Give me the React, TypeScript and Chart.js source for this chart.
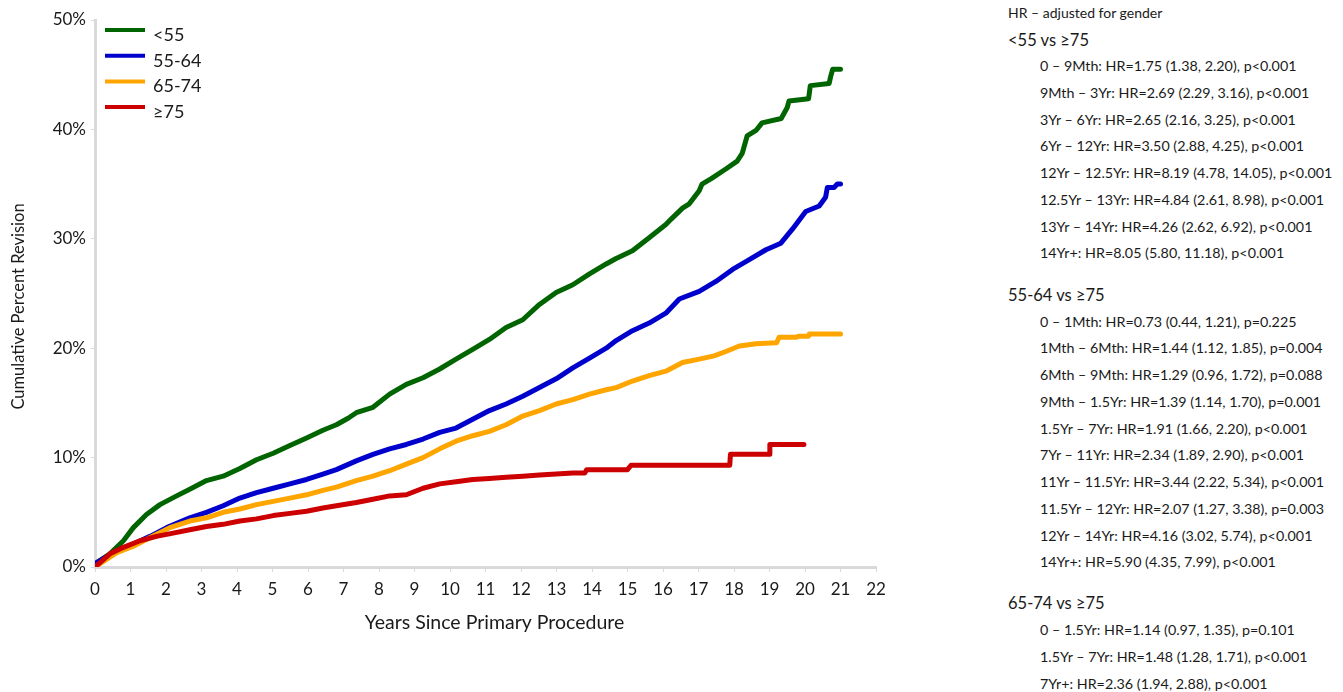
import React, { useEffect, useRef } from 'react';
import { Chart, registerables } from 'chart.js';

Chart.register(...registerables);

const seriesLabels = ['<55', '55-64', '65-74', '≥75'];
const seriesColors = ['#006400', '#0000cc', '#ffa500', '#cc0000'];

const under55Years = [0, 0.05, 0.42, 0.8, 1.08, 1.45, 1.83, 2.3, 2.67, 3.14, 3.61, 4.08, 4.55, 5.02, 5.49, 5.96, 6.42, 6.8, 7.13, 7.36, 7.83, 8.3, 8.77, 9.24, 9.71, 10.17, 10.64, 11.11, 11.58, 12.05, 12.52, 12.99, 13.46, 13.93, 14.4, 14.68, 15.14, 15.61, 16.08, 16.23, 16.55, 16.74, 17.02, 17.1, 17.36, 17.78, 18.09, 18.23, 18.37, 18.62, 18.79, 19.33, 19.5, 19.55, 20.1, 20.15, 20.68, 20.72, 20.78, 21.0];
const under55Pct = [0, 0.4, 1.2, 2.4, 3.6, 4.8, 5.7, 6.5, 7.1, 7.9, 8.3, 9.0, 9.8, 10.4, 11.1, 11.8, 12.5, 13.0, 13.6, 14.1, 14.6, 15.8, 16.7, 17.3, 18.1, 19.0, 19.9, 20.8, 21.9, 22.6, 24.0, 25.1, 25.8, 26.8, 27.7, 28.2, 28.9, 30.1, 31.3, 31.8, 32.8, 33.2, 34.4, 35.0, 35.5, 36.4, 37.1, 37.8, 39.4, 39.9, 40.6, 41.0, 42.0, 42.6, 42.8, 44.0, 44.2, 44.8, 45.5, 45.5];

const age55to64Years = [0, 0.05, 0.61, 1.08, 1.55, 2.02, 2.67, 3.14, 3.61, 4.08, 4.55, 5.02, 5.49, 5.96, 6.42, 6.8, 7.36, 7.83, 8.3, 8.77, 9.24, 9.71, 10.17, 10.64, 11.11, 11.58, 12.05, 12.52, 12.99, 13.46, 13.93, 14.4, 14.68, 15.14, 15.61, 16.08, 16.46, 17.02, 17.49, 17.96, 18.43, 18.9, 19.32, 19.65, 20.02, 20.4, 20.58, 20.63, 20.82, 20.91, 21.0];
const age55to64Pct = [0, 0.4, 1.5, 2.1, 2.8, 3.6, 4.5, 5.0, 5.6, 6.3, 6.8, 7.2, 7.6, 8.0, 8.5, 8.9, 9.7, 10.3, 10.8, 11.2, 11.7, 12.3, 12.7, 13.5, 14.3, 14.9, 15.6, 16.4, 17.2, 18.2, 19.1, 20.0, 20.7, 21.6, 22.3, 23.2, 24.5, 25.2, 26.1, 27.2, 28.1, 29.0, 29.6, 30.9, 32.5, 33.0, 33.8, 34.7, 34.7, 35.0, 35.0];

const age65to74Years = [0, 0.61, 1.08, 1.55, 2.11, 2.67, 3.14, 3.61, 4.08, 4.55, 5.02, 5.49, 5.96, 6.42, 6.8, 7.36, 7.83, 8.3, 8.77, 9.24, 9.71, 10.17, 10.64, 11.11, 11.58, 12.05, 12.52, 12.99, 13.46, 13.93, 14.4, 14.68, 15.14, 15.61, 16.08, 16.55, 17.02, 17.44, 17.77, 18.15, 18.62, 19.2, 19.27, 19.74, 19.83, 20.1, 20.12, 21.0];
const age65to74Pct = [0, 1.3, 1.9, 2.7, 3.6, 4.2, 4.5, 5.0, 5.3, 5.7, 6.0, 6.3, 6.6, 7.0, 7.3, 7.9, 8.3, 8.8, 9.4, 10.0, 10.8, 11.5, 12.0, 12.4, 13.0, 13.8, 14.3, 14.9, 15.3, 15.8, 16.2, 16.4, 17.0, 17.5, 17.9, 18.7, 19.0, 19.3, 19.7, 20.2, 20.4, 20.5, 21.0, 21.0, 21.1, 21.1, 21.3, 21.3];

const age75PlusYears = [0, 0.42, 0.8, 1.27, 1.73, 2.2, 2.67, 3.14, 3.61, 4.08, 4.55, 5.02, 5.49, 5.96, 6.42, 6.8, 7.36, 7.83, 8.3, 8.77, 9.24, 9.71, 10.17, 10.64, 11.11, 11.58, 12.05, 12.52, 12.99, 13.46, 13.8, 13.85, 15.0, 15.1, 17.88, 17.9, 18.99, 19.01, 19.97];
const age75PlusPct = [0, 1.2, 1.8, 2.4, 2.8, 3.1, 3.4, 3.7, 3.9, 4.2, 4.4, 4.7, 4.9, 5.1, 5.4, 5.6, 5.9, 6.2, 6.5, 6.6, 7.2, 7.6, 7.8, 8.0, 8.1, 8.2, 8.3, 8.4, 8.5, 8.6, 8.6, 8.9, 8.9, 9.3, 9.3, 10.3, 10.3, 11.2, 11.2];

const seriesYears = [under55Years, age55to64Years, age65to74Years, age75PlusYears];
const seriesPct = [under55Pct, age55to64Pct, age65to74Pct, age75PlusPct];

const xMin = 0;
const xMax = 22;
const xStep = 1;
const yMin = 0;
const yMax = 50;
const yStep = 10;

const xTitle = 'Years Since Primary Procedure';
const yTitle = 'Cumulative Percent Revision';

const hrHeader = 'HR – adjusted for gender';
const group1Title = '<55 vs ≥75';
const group1Rows = [
  '0 – 9Mth: HR=1.75 (1.38, 2.20), p<0.001',
  '9Mth – 3Yr: HR=2.69 (2.29, 3.16), p<0.001',
  '3Yr – 6Yr: HR=2.65 (2.16, 3.25), p<0.001',
  '6Yr – 12Yr: HR=3.50 (2.88, 4.25), p<0.001',
  '12Yr – 12.5Yr: HR=8.19 (4.78, 14.05), p<0.001',
  '12.5Yr – 13Yr: HR=4.84 (2.61, 8.98), p<0.001',
  '13Yr – 14Yr: HR=4.26 (2.62, 6.92), p<0.001',
  '14Yr+: HR=8.05 (5.80, 11.18), p<0.001',
];
const group2Title = '55-64 vs ≥75';
const group2Rows = [
  '0 – 1Mth: HR=0.73 (0.44, 1.21), p=0.225',
  '1Mth – 6Mth: HR=1.44 (1.12, 1.85), p=0.004',
  '6Mth – 9Mth: HR=1.29 (0.96, 1.72), p=0.088',
  '9Mth – 1.5Yr: HR=1.39 (1.14, 1.70), p=0.001',
  '1.5Yr – 7Yr: HR=1.91 (1.66, 2.20), p<0.001',
  '7Yr – 11Yr: HR=2.34 (1.89, 2.90), p<0.001',
  '11Yr – 11.5Yr: HR=3.44 (2.22, 5.34), p<0.001',
  '11.5Yr – 12Yr: HR=2.07 (1.27, 3.38), p=0.003',
  '12Yr – 14Yr: HR=4.16 (3.02, 5.74), p<0.001',
  '14Yr+: HR=5.90 (4.35, 7.99), p<0.001',
];
const group3Title = '65-74 vs ≥75';
const group3Rows = [
  '0 – 1.5Yr: HR=1.14 (0.97, 1.35), p=0.101',
  '1.5Yr – 7Yr: HR=1.48 (1.28, 1.71), p<0.001',
  '7Yr+: HR=2.36 (1.94, 2.88), p<0.001',
];

const FONT = 'Lato, "Open Sans", sans-serif';
const TEXT_COLOR = '#1a1a1a';
const AXIS_COLOR = '#d9d9d9';

const overlayPlugin = {
  id: 'overlayPlugin',
  afterDraw(chart: any) {
    const { ctx, chartArea } = chart;
    ctx.save();
    chart.data.datasets.forEach((ds: any, i: number) => {
      const y = chartArea.top + 10 + i * 25.7;
      ctx.strokeStyle = ds.borderColor;
      ctx.lineWidth = 4;
      ctx.lineCap = 'butt';
      ctx.beginPath();
      ctx.moveTo(chartArea.left + 10, y);
      ctx.lineTo(chartArea.left + 50, y);
      ctx.stroke();
      ctx.fillStyle = TEXT_COLOR;
      ctx.font = `18px ${FONT}`;
      ctx.textBaseline = 'middle';
      ctx.textAlign = 'left';
      ctx.fillText(ds.label, chartArea.left + 58, y + 5);
    });
    ctx.fillStyle = TEXT_COLOR;
    ctx.font = `19.5px ${FONT}`;
    ctx.textAlign = 'center';
    ctx.textBaseline = 'middle';
    ctx.fillText(xTitle, (chartArea.left + chartArea.right) / 2 + 9, chartArea.bottom + 56);
    ctx.font = `16.5px ${FONT}`;
    ctx.translate(19, (chartArea.top + chartArea.bottom) / 2 + 13);
    ctx.rotate(-Math.PI / 2);
    ctx.fillText(yTitle, 0, 0);
    ctx.restore();
  },
};

function ChartCanvas() {
  const ref = useRef<HTMLCanvasElement | null>(null);
  useEffect(() => {
    if (!ref.current) return;
    const datasets = seriesLabels.map((label, i) => ({
      label,
      data: seriesYears[i].map((x, j) => ({ x, y: seriesPct[i][j] })),
      borderColor: seriesColors[i],
      backgroundColor: seriesColors[i],
      borderWidth: 5,
      pointRadius: 0,
      tension: 0,
      fill: false,
      borderCapStyle: 'round',
      borderJoinStyle: 'round',
      order: 4 - i,
    }));
    const chart = new Chart(ref.current, {
      type: 'line',
      data: { datasets } as any,
      options: {
        animation: false,
        responsive: false,
        devicePixelRatio: 1,
        layout: { padding: { left: 0, top: 20, right: 124, bottom: 0 } },
        plugins: { legend: { display: false }, tooltip: { enabled: false }, title: { display: false } },
        scales: {
          x: {
            type: 'linear',
            min: xMin,
            max: xMax,
            border: { display: true, color: AXIS_COLOR, width: 3 },
            grid: { display: true, drawOnChartArea: false, drawTicks: true, tickLength: 5, color: AXIS_COLOR, lineWidth: 1 },
            ticks: { stepSize: xStep, color: TEXT_COLOR, font: { size: 17, family: FONT }, padding: 7, maxRotation: 0 },
            afterFit: (scale: any) => { scale.height = 125; },
          },
          y: {
            type: 'linear',
            min: yMin,
            max: yMax,
            border: { display: true, color: AXIS_COLOR, width: 3 },
            grid: { display: true, drawOnChartArea: false, drawTicks: true, tickLength: 4, color: AXIS_COLOR, lineWidth: 1 },
            ticks: { stepSize: yStep, color: TEXT_COLOR, font: { size: 17, family: FONT }, padding: 5, callback: (v: any) => `${v}%` },
            afterFit: (scale: any) => { scale.width = 95; },
          },
        },
      } as any,
      plugins: [overlayPlugin],
    });
    return () => chart.destroy();
  }, []);
  return <canvas ref={ref} width={1000} height={692} style={{ position: 'absolute', left: 0, top: 0, width: 1000, height: 692 }} />;
}

function Row({ text, y, x, size }: { text: string; y: number; x: number; size: number }) {
  return (
    <div style={{ position: 'absolute', left: x, top: y - 10, height: 20, lineHeight: '20px', fontSize: size, whiteSpace: 'nowrap', color: TEXT_COLOR, fontFamily: FONT }}>
      {text}
    </div>
  );
}

function Panel() {
  const rowGap = 26.75;
  const items: React.ReactNode[] = [];
  items.push(<Row key="h" text={hrHeader} x={1008} y={13} size={14} />);
  items.push(<Row key="g1" text={group1Title} x={1008} y={40} size={16.5} />);
  group1Rows.forEach((t, i) => items.push(<Row key={`a${i}`} text={t} x={1040} y={66 + i * rowGap} size={14.3} />));
  items.push(<Row key="g2" text={group2Title} x={1008} y={295} size={16.5} />);
  group2Rows.forEach((t, i) => items.push(<Row key={`b${i}`} text={t} x={1040} y={321.5 + i * rowGap} size={14.3} />));
  items.push(<Row key="g3" text={group3Title} x={1008} y={603} size={16.5} />);
  group3Rows.forEach((t, i) => items.push(<Row key={`c${i}`} text={t} x={1040} y={630 + i * rowGap} size={14.3} />));
  return <>{items}</>;
}

export default function App() {
  return (
    <div style={{ position: 'absolute', left: 0, top: 0, width: 1343, height: 692, background: '#fff', overflow: 'hidden' }}>
      <ChartCanvas />
      <Panel />
    </div>
  );
}
